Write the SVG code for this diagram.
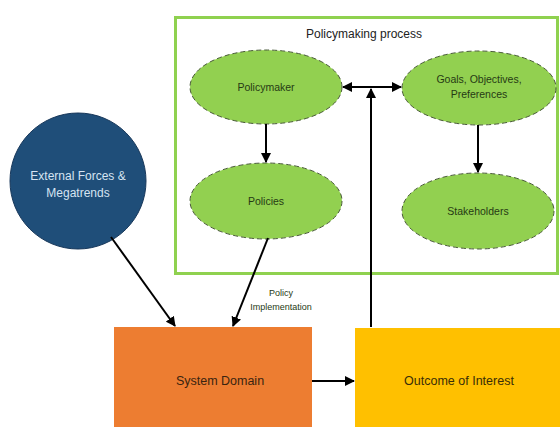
<svg xmlns="http://www.w3.org/2000/svg" width="560" height="427" viewBox="0 0 560 427">
<style>
.ell{fill:#92D050;stroke:#4a5a3a;stroke-width:1;stroke-dasharray:5 3}
.et{font-family:"Liberation Sans",Arial,sans-serif;font-size:10.5px;fill:#263a14;text-anchor:middle}
.ln{stroke:#000;stroke-width:2;fill:none}
.bt{font-family:"Liberation Sans",Arial,sans-serif;font-size:12.5px;text-anchor:middle}
</style>
<defs>
<marker id="ah" viewBox="0 0 10 10" refX="9" refY="5" markerWidth="5" markerHeight="5" orient="auto-start-reverse" markerUnits="strokeWidth">
<path d="M0,0 L10,5 L0,10 z" fill="#000"/>
</marker>
</defs>
<rect width="560" height="427" fill="#fff"/>
<g id="process">
<rect x="175.5" y="17.5" width="382" height="256" fill="#fff" stroke="#8fd14f" stroke-width="3"/>
<text x="364" y="38" class="bt" style="font-size:12px" fill="#222">Policymaking process</text>
</g>
<g id="policymaker"><ellipse cx="266" cy="87" rx="76" ry="37" class="ell"/><text x="266" y="91" class="et">Policymaker</text></g>
<g id="goals"><ellipse cx="479" cy="88" rx="77" ry="37" class="ell"/><text x="479" y="83" class="et">Goals, Objectives,</text><text x="479" y="98" class="et">Preferences</text></g>
<g id="policies"><ellipse cx="266" cy="201" rx="76" ry="38" class="ell"/><text x="266" y="205" class="et">Policies</text></g>
<g id="stakeholders"><ellipse cx="478" cy="211" rx="76" ry="38" class="ell"/><text x="478" y="215" class="et">Stakeholders</text></g>
<g id="external"><circle cx="78" cy="181" r="68" fill="#1F4E79" stroke="#17375a" stroke-width="1"/>
<text x="78" y="180" class="bt" fill="#d6e4f2" style="font-size:12px">External Forces &amp;</text>
<text x="78" y="197" class="bt" fill="#d6e4f2" style="font-size:12px">Megatrends</text></g>
<g id="system"><rect x="114" y="327" width="198" height="100" fill="#ED7D31"/><text x="220" y="385" class="bt" fill="#3a2410">System Domain</text></g>
<g id="outcome"><rect x="355" y="328" width="205" height="99" fill="#FFC000"/><text x="459" y="385" class="bt" fill="#3a2e08">Outcome of Interest</text></g>
<g id="connectors">
<line x1="266" y1="124" x2="266" y2="162" class="ln" marker-end="url(#ah)"/>
<line x1="478" y1="125" x2="478" y2="172" class="ln" marker-end="url(#ah)"/>
<line x1="343" y1="87" x2="401" y2="87" class="ln" marker-start="url(#ah)" marker-end="url(#ah)"/>
<line x1="371" y1="327" x2="371" y2="89" class="ln" marker-end="url(#ah)"/>
<line x1="268" y1="238" x2="233" y2="326" class="ln" marker-end="url(#ah)"/>
<line x1="111" y1="237" x2="175" y2="326" class="ln" marker-end="url(#ah)"/>
<line x1="312" y1="381" x2="354" y2="381" class="ln" marker-end="url(#ah)"/>
<text x="281" y="296" class="et" style="font-size:9px" fill="#333">Policy</text>
<text x="281" y="310" class="et" style="font-size:9px" fill="#333">Implementation</text>
</g>
</svg>
